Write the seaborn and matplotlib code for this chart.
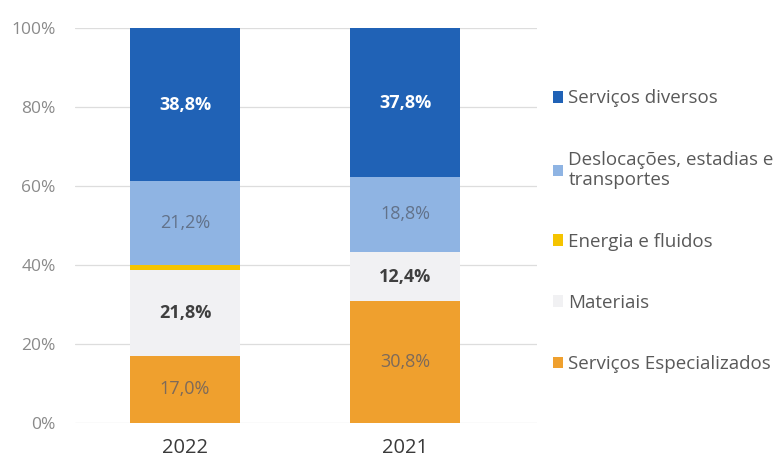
import pandas as pd
import matplotlib.pyplot as plt
import seaborn as sns
from matplotlib.patches import Patch

# data (bottom to top of the stack)
years = ['2022', '2021']
categories = ['Serviços Especializados', 'Materiais', 'Energia e fluidos',
              'Deslocações, estadias e\ntransportes', 'Serviços diversos']
serv_especializados = [17.0, 30.8]
materiais = [21.8, 12.4]
energia = [1.2, 0.2]
deslocacoes = [21.2, 18.8]
serv_diversos = [38.8, 37.8]

colors = ['#efa02e', '#f1f1f3', '#f5c400', '#8fb4e3', '#2062b6']
label_colors = ['#7d6a5a', '#3f3f3f', None, '#62728a', '#ffffff']
label_weights = ['normal', 'bold', None, 'normal', 'bold']

layers = [serv_especializados, materiais, energia, deslocacoes, serv_diversos]
df = pd.DataFrame({cat: vals for cat, vals in zip(categories, layers)}, index=years)
cum = df.cumsum(axis=1)

sns.set_theme(style="white")
plt.rcParams['font.family'] = ['Open Sans', 'DejaVu Sans']

fig = plt.figure(figsize=(7.77, 4.63), dpi=100)
ax = fig.add_axes([75 / 777, 40 / 463, 462 / 777, 395 / 463])

# draw stacked bars from the top layer down so each one covers the next
for i in reversed(range(len(categories))):
    cat = categories[i]
    sns.barplot(x=years, y=cum[cat].values, color=colors[i], width=0.5,
                saturation=1, linewidth=0, ax=ax, zorder=2)

# value labels
for i, cat in enumerate(categories):
    if label_colors[i] is None:
        continue
    for j, yr in enumerate(years):
        v = df.loc[yr, cat]
        mid = cum.loc[yr, cat] - v / 2
        ax.text(j, mid, f"{v:.1f}%".replace('.', ','), ha='center', va='center',
                fontsize=13, color=label_colors[i], fontweight=label_weights[i], zorder=3)

ax.set_ylim(0, 100)
ax.set_xlim(-0.5, 1.6)
ax.set_yticks(range(0, 101, 20))
ax.set_yticklabels([f"{t}%" for t in range(0, 101, 20)])
ax.yaxis.grid(True, color='#dddddd', linewidth=0.9, zorder=0)
ax.set_axisbelow(True)
for s in ax.spines.values():
    s.set_visible(False)
ax.tick_params(axis='y', labelsize=12.5, labelcolor='#8a8a8a', pad=14, length=0)
ax.tick_params(axis='x', labelsize=14.5, labelcolor='#3a3a3a', pad=11, length=0)

# legend, top entry first
handles = [Patch(facecolor=colors[i], edgecolor='none') for i in reversed(range(len(categories)))]
labels = [categories[i] for i in reversed(range(len(categories)))]
leg = fig.legend(handles, labels, loc='upper left', bbox_to_anchor=(545 / 777, 1 - 82 / 463),
                 frameon=False, fontsize=13.5, labelspacing=2.3, handlelength=0.55,
                 handleheight=0.55, handletextpad=0.3, borderaxespad=0)
for t in leg.get_texts():
    t.set_color('#595959')

fig.savefig('out.png', dpi=100)
